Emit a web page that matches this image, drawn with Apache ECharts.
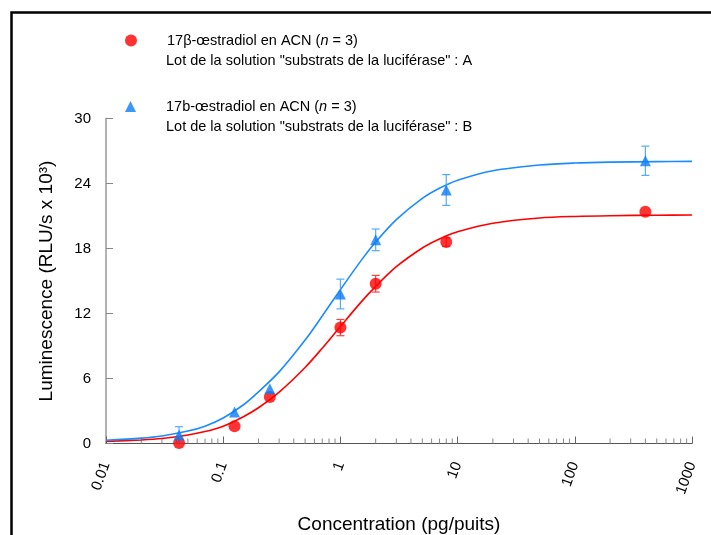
<!DOCTYPE html>
<html><head><meta charset="utf-8">
<script src="https://cdn.jsdelivr.net/npm/echarts@6/dist/echarts.min.js"></script>
<style>html,body{margin:0;padding:0;background:#fff}#c{width:711px;height:535px}</style>
</head><body><div id="c"></div>
<script>
// ---- data ----
const concentrations = [0.042, 0.125, 0.25, 1, 2, 8, 400];
const seriesA = [0.05, 1.6, 4.3, 10.7, 14.75, 18.6, 21.4];
const errA    = [null, null, null, 0.75, 0.77, 0.4, null];
const seriesB = [0.78, 2.9, 5.05, 13.8, 18.8, 23.4, 26.1];
const errB    = [0.77, null, null, 1.37, 1.0, 1.42, 1.35];

const curveX = [0.01, 0.02, 0.03, 0.05, 0.07, 0.1, 0.15, 0.2, 0.3, 0.5, 0.7, 1, 1.5, 2, 3, 5, 7, 10, 20, 50, 100, 200, 500, 1000];
const curveA = [0.2, 0.33, 0.46, 0.78, 1.1, 1.6, 2.5, 3.3, 4.74, 7.02, 8.8, 10.8, 13.05, 14.5, 16.32, 18.05, 18.88, 19.54, 20.33, 20.81, 20.96, 21.03, 21.07, 21.09];
const curveB = [0.3, 0.5, 0.7, 1.15, 1.6, 2.35, 3.6, 4.77, 6.61, 9.55, 11.77, 14.2, 16.88, 18.6, 20.67, 22.63, 23.56, 24.3, 25.18, 25.71, 25.89, 25.97, 26.02, 26.04];

const yTicks = [0, 6, 12, 18, 24, 30];
const xTickLabels = ['0.01', '0.1', '1', '10', '100', '1000'];
const minorTickValues = [
  0.02,0.03,0.04,0.05,0.06,0.07,0.08,0.09,
  0.2,0.3,0.4,0.5,0.6,0.7,0.8,0.9,
  2,3,4,5,6,7,8,9,
  20,30,40,50,60,70,80,90,
  200,300,400,500,600,700,800,900
];

const nameA = '17β-œstradiol en ACN (n = 3)';
const nameB = '17b-œstradiol en ACN (n = 3)';
const lineA = 'Lot de la solution "substrats de la luciférase" : A';
const lineB = 'Lot de la solution "substrats de la luciférase" : B';

const RED = '#ff0000', BLUE = '#1a8cff', BLUE_M = '#0a7cf5';
const FONT = 'Liberation Sans, Arial, sans-serif';

function pairs(xs, ys) { return xs.map((x, i) => [x, ys[i]]); }
function errData(xs, ys, es) {
  const out = [];
  xs.forEach((x, i) => { if (es[i] != null) out.push([x, ys[i] - es[i], ys[i] + es[i]]); });
  return out;
}
function errRender(color) {
  return function (params, api) {
    const lo = api.coord([api.value(0), api.value(1)]);
    const hi = api.coord([api.value(0), api.value(2)]);
    const w = 4;
    const st = { stroke: color, lineWidth: 1.2 };
    return { type: 'group', children: [
      { type: 'line', shape: { x1: lo[0], y1: lo[1], x2: hi[0], y2: hi[1] }, style: st },
      { type: 'line', shape: { x1: lo[0] - w, y1: lo[1], x2: lo[0] + w, y2: lo[1] }, style: st },
      { type: 'line', shape: { x1: hi[0] - w, y1: hi[1], x2: hi[0] + w, y2: hi[1] }, style: st }
    ]};
  };
}
const legendFmt = function (name) {
  const parts = name.split('(n');
  return '{s|}{a|' + parts[0] + '(}{i|n}{a|' + parts[1] + '}';
};
const legendRich = {
  s: { width: 25 },
  a: { fontSize: 14.5, fontFamily: FONT, color: '#000' },
  i: { fontSize: 14.5, fontFamily: FONT, color: '#000', fontStyle: 'italic' }
};

const chart = echarts.init(document.getElementById('c'), null, { renderer: 'canvas' });
chart.setOption({
  backgroundColor: '#fff',
  animation: false,
  grid: { left: 106, right: 19, top: 118.5, bottom: 91.5, containLabel: false, outerBoundsMode: 'none' },
  legend: [
    { data: [nameA], left: 125, top: 33, padding: 0, icon: 'circle', itemWidth: 12, itemHeight: 12,
      formatter: legendFmt, textStyle: { rich: legendRich }, selectedMode: false },
    { data: [nameB], left: 125, top: 99, padding: 0, icon: 'triangle', itemWidth: 11, itemHeight: 11,
      formatter: legendFmt, textStyle: { rich: legendRich }, selectedMode: false }
  ],
  graphic: [
    { type: 'rect', shape: { x: 11.5, y: 12.5, width: 800, height: 600 }, style: { fill: 'none', stroke: '#000', lineWidth: 2.5 }, silent: true },
    { type: 'text', x: 166, y: 61, style: { text: lineA, font: '14.5px ' + FONT, fill: '#000', verticalAlign: 'middle' } },
    { type: 'text', x: 166, y: 127, style: { text: lineB, font: '14.5px ' + FONT, fill: '#000', verticalAlign: 'middle' } }
  ],
  xAxis: {
    type: 'log', logBase: 10, min: 0.01, max: 1000,
    name: 'Concentration (pg/puits)', nameLocation: 'middle', nameGap: 72,
    nameTextStyle: { fontSize: 19, fontFamily: FONT, color: '#000' },
    axisLine: { show: true, lineStyle: { color: '#555', width: 1 } },
    axisTick: { show: true, inside: true, length: 7, lineStyle: { color: '#666' } },
    minorTick: { show: false },
    splitLine: { show: false },
    axisLabel: { rotate: 70, fontSize: 15, fontFamily: FONT, color: '#000', margin: 19,
      formatter: function (v, i) { return xTickLabels[i] !== undefined ? xTickLabels[i] : ''; } }
  },
  yAxis: {
    type: 'value', min: yTicks[0], max: yTicks[yTicks.length - 1], interval: yTicks[1] - yTicks[0],
    name: 'Luminescence (RLU/s x 10³)', nameLocation: 'middle', nameGap: 50, nameRotate: 90,
    nameTextStyle: { fontSize: 19, fontFamily: FONT, color: '#000' },
    axisLine: { show: true, lineStyle: { color: '#999', width: 1.5 } },
    axisTick: { show: true, inside: true, length: 7, lineStyle: { color: '#888' } },
    splitLine: { show: false },
    axisLabel: { fontSize: 15, fontFamily: FONT, color: '#000', margin: 15 }
  },
  series: [
    { name: 'minor', type: 'custom', silent: true, z: 1,
      data: minorTickValues.map(v => [v, 0]),
      renderItem: function (params, api) {
        const p = api.coord([api.value(0), 0]);
        return { type: 'line', shape: { x1: p[0], y1: p[1], x2: p[0], y2: p[1] - 5 }, style: { stroke: '#888', lineWidth: 1 } };
      } },
    { name: 'fitA', type: 'line', data: pairs(curveX, curveA), showSymbol: false, smooth: 0.3,
      lineStyle: { color: RED, width: 1.6 }, itemStyle: { color: RED }, z: 2, silent: true },
    { name: 'fitB', type: 'line', data: pairs(curveX, curveB), showSymbol: false, smooth: 0.3,
      lineStyle: { color: BLUE, width: 1.6 }, itemStyle: { color: BLUE }, z: 2, silent: true },
    { name: 'errA', type: 'custom', data: errData(concentrations, seriesA, errA), renderItem: errRender('#ff4040'), z: 3, silent: true },
    { name: 'errB', type: 'custom', data: errData(concentrations, seriesB, errB), renderItem: errRender('#55aaff'), z: 3, silent: true },
    { name: nameA, type: 'scatter', data: pairs(concentrations, seriesA), symbol: 'circle', symbolSize: 12,
      itemStyle: { color: RED }, z: 4 },
    { name: nameB, type: 'scatter', data: pairs(concentrations, seriesB), symbol: 'triangle', symbolSize: 11,
      itemStyle: { color: BLUE_M }, z: 4 }
  ]
});
</script>
</body></html>
